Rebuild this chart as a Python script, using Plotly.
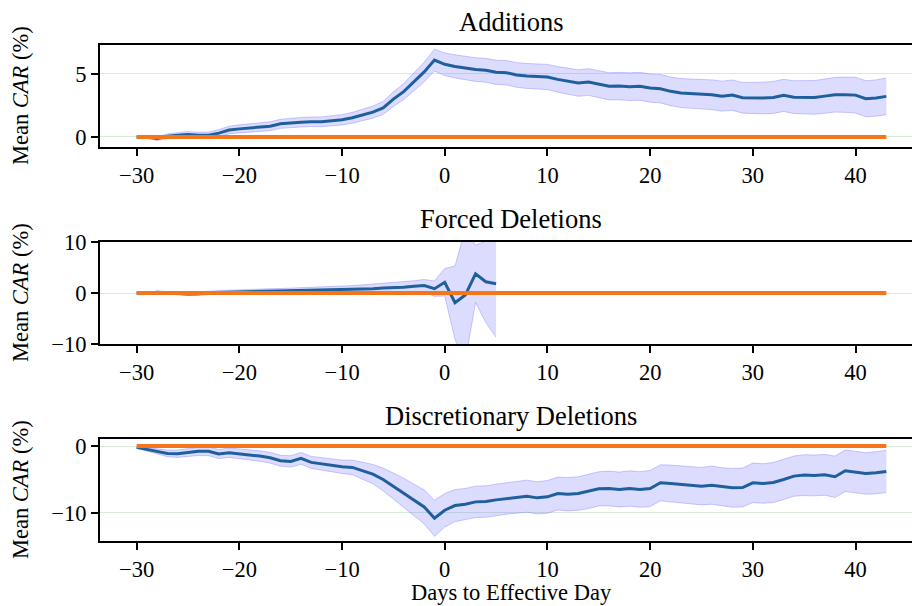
import plotly.graph_objects as go

days = list(range(-30, 44))
forced_days = list(range(-30, 6))

add_mean = [0.0, 0.0, -0.13, 0.05, 0.13, 0.2, 0.13, 0.13, 0.3, 0.55,
            0.64, 0.7, 0.75, 0.85, 1.04, 1.12, 1.17, 1.2, 1.2, 1.28,
            1.36, 1.52, 1.75, 1.97, 2.3, 3.0, 3.6, 4.36, 5.16, 6.1,
            5.77, 5.6, 5.45, 5.35, 5.29, 5.13, 5.1, 4.92, 4.84, 4.79,
            4.76, 4.57, 4.41, 4.28, 4.36, 4.18, 4.02, 4.04, 3.99, 4.02,
            3.88, 3.83, 3.62, 3.48, 3.43, 3.43, 3.35, 3.24, 3.32, 3.11,
            3.09, 3.09, 3.14, 3.3, 3.16, 3.14, 3.14, 3.24, 3.35, 3.35,
            3.32, 3.03, 3.09, 3.22]
add_hw = [0.08, 0.12, 0.15, 0.18, 0.2, 0.22, 0.24, 0.26, 0.28, 0.3,
          0.32, 0.33, 0.34, 0.35, 0.36, 0.37, 0.38, 0.38, 0.39, 0.4,
          0.41, 0.43, 0.45, 0.48, 0.52, 0.58, 0.64, 0.7, 0.78, 0.87,
          0.9, 0.92, 0.93, 0.94, 0.95, 0.96, 0.97, 0.98, 0.99, 1.0,
          1.0, 1.02, 1.04, 1.05, 1.06, 1.07, 1.08, 1.09, 1.1, 1.11,
          1.12, 1.13, 1.14, 1.15, 1.16, 1.17, 1.18, 1.19, 1.2, 1.22,
          1.24, 1.26, 1.27, 1.28, 1.3, 1.32, 1.34, 1.36, 1.38, 1.4,
          1.42, 1.43, 1.44, 1.46]

forced_mean = [0.0, -0.1, 0.15, 0.0, -0.1, -0.2, -0.15, 0.05, 0.1, 0.15,
               0.2, 0.22, 0.25, 0.3, 0.3, 0.35, 0.4, 0.45, 0.5, 0.55,
               0.6, 0.65, 0.75, 0.85, 1.0, 1.05, 1.15, 1.3, 1.45, 0.85,
               2.1, -1.9, -0.4, 3.75, 2.2, 1.8]
forced_hw = [0.15, 0.2, 0.22, 0.25, 0.28, 0.3, 0.33, 0.35, 0.38, 0.4,
             0.45, 0.48, 0.5, 0.55, 0.58, 0.6, 0.65, 0.68, 0.7, 0.75,
             0.78, 0.8, 0.85, 0.9, 0.95, 1.0, 1.05, 1.1, 1.2, 1.5,
             2.7, 7.2, 13.0, 5.6, 8.0, 10.5]

disc_mean = [-0.2, -0.5, -0.8, -1.1, -1.15, -1.0, -0.8, -0.8, -1.2, -1.0,
             -1.15, -1.25, -1.5, -1.75, -2.2, -2.3, -1.85, -2.45, -2.7, -2.95,
             -3.1, -3.2, -3.7, -4.2, -5.0, -6.0, -7.0, -8.1, -9.1, -10.8,
             -9.6, -8.9, -8.7, -8.35, -8.3, -8.05, -7.85, -7.65, -7.5, -7.75,
             -7.6, -7.1, -7.2, -7.1, -6.8, -6.4, -6.35, -6.5, -6.35, -6.5,
             -6.35, -5.5, -5.6, -5.7, -5.8, -6.0, -5.85, -6.1, -6.25, -6.2,
             -5.5, -5.6, -5.45, -5.0, -4.5, -4.35, -4.4, -4.3, -4.6, -3.7,
             -3.95, -4.1, -4.0, -3.8]
disc_hw = [0.15, 0.3, 0.4, 0.5, 0.55, 0.6, 0.62, 0.65, 0.68, 0.7,
           0.72, 0.75, 0.78, 0.8, 0.82, 0.85, 0.88, 0.9, 0.93, 0.96,
           1.0, 1.1, 1.25, 1.45, 1.7, 1.95, 2.2, 2.4, 2.55, 2.7,
           2.5, 2.4, 2.35, 2.35, 2.35, 2.35, 2.35, 2.4, 2.4, 2.4,
           2.45, 2.45, 2.5, 2.5, 2.55, 2.55, 2.6, 2.6, 2.65, 2.65,
           2.7, 2.7, 2.75, 2.75, 2.8, 2.8, 2.85, 2.85, 2.9, 2.9,
           2.95, 2.95, 3.0, 3.0, 3.0, 3.05, 3.05, 3.05, 3.1, 3.1,
           3.1, 3.1, 3.15, 3.15]

baseline = [0.0 for _ in days]

titles = ["Additions", "Forced Deletions", "Discretionary Deletions"]
xtick_vals = [-30, -20, -10, 0, 10, 20, 30, 40]
ytick_sets = [[0, 5], [-10, 0, 10], [-10, 0]]
y_ranges = [[-0.8, 7.3], [-10, 10], [-14.2, 1.05]]
x_label = "Days to Effective Day"
y_label = "Mean <i>CAR</i> (%)"

W, H = 912, 606
panel_px = [(45, 147), (242, 344), (439, 541)]
FONT = "Liberation Serif"
BLUE = "#1f5f9c"
ORANGE = "#f5761a"
BAND = "rgba(110,110,255,0.24)"
BAND_EDGE = "rgba(110,110,255,0.35)"
GRID = "rgba(180,220,180,0.55)"
TICK_SIZE = 22.5
LABEL_SIZE = 22.5
TITLE_SIZE = 26.5

series = [(days, add_mean, add_hw), (forced_days, forced_mean, forced_hw), (days, disc_mean, disc_hw)]

fig = go.Figure()
annotations = []
layout_axes = {}
for i, ((xs, m, hw), (top, bot)) in enumerate(zip(series, panel_px)):
    n = "" if i == 0 else str(i + 1)
    xa, ya = "x" + n, "y" + n
    upper = [a + b for a, b in zip(m, hw)]
    lower = [a - b for a, b in zip(m, hw)]
    fig.add_trace(go.Scatter(x=xs, y=upper, xaxis=xa, yaxis=ya, mode="lines",
                             line=dict(color=BAND_EDGE, width=1), showlegend=False, hoverinfo="skip"))
    fig.add_trace(go.Scatter(x=xs, y=lower, xaxis=xa, yaxis=ya, mode="lines", fill="tonexty",
                             fillcolor=BAND, line=dict(color=BAND_EDGE, width=1), showlegend=False, hoverinfo="skip"))
    fig.add_trace(go.Scatter(x=xs, y=m, xaxis=xa, yaxis=ya, mode="lines",
                             line=dict(color=BLUE, width=3), showlegend=False))
    fig.add_trace(go.Scatter(x=days, y=baseline, xaxis=xa, yaxis=ya, mode="lines",
                             line=dict(color=ORANGE, width=4), showlegend=False))
    dom = [1 - bot / H, 1 - top / H]
    layout_axes["xaxis" + n] = dict(
        domain=[100 / W, 1.0], anchor=ya, range=[-33.57, 45.5], automargin=False,
        tickmode="array", tickvals=xtick_vals, ticks="outside", ticklen=7, tickwidth=1.5,
        tickcolor="black", showline=True, linecolor="black", linewidth=2, mirror=True,
        showgrid=False, zeroline=False, tickfont=dict(family=FONT, size=TICK_SIZE, color="black"))
    layout_axes["yaxis" + n] = dict(
        domain=dom, anchor=xa, range=y_ranges[i], automargin=False,
        tickmode="array", tickvals=ytick_sets[i], ticks="outside", ticklen=7, tickwidth=1.5,
        tickcolor="black", showline=True, linecolor="black", linewidth=2, mirror=False,
        showgrid=True, gridcolor=GRID, gridwidth=1, zeroline=False,
        tickfont=dict(family=FONT, size=TICK_SIZE, color="black"))
    annotations.append(dict(text=titles[i], xref="paper", yref="paper", x=511 / W, y=1 - (top - 6) / H,
                            xanchor="center", yanchor="bottom", showarrow=False,
                            font=dict(family=FONT, size=TITLE_SIZE, color="black")))
    annotations.append(dict(text=y_label, xref="paper", yref="paper", x=20 / W, y=1 - ((top + bot) / 2) / H,
                            xanchor="center", yanchor="middle", textangle=-90, showarrow=False,
                            font=dict(family=FONT, size=LABEL_SIZE, color="black")))

annotations.append(dict(text=x_label, xref="paper", yref="paper", x=511 / W, y=1 - 592 / H,
                        xanchor="center", yanchor="middle", showarrow=False,
                        font=dict(family=FONT, size=LABEL_SIZE, color="black")))

fig.update_layout(width=W, height=H, margin=dict(l=0, r=0, t=0, b=0, pad=0, autoexpand=False),
                  paper_bgcolor="white", plot_bgcolor="white", showlegend=False,
                  annotations=annotations, **layout_axes)
fig.write_html("out.html")
